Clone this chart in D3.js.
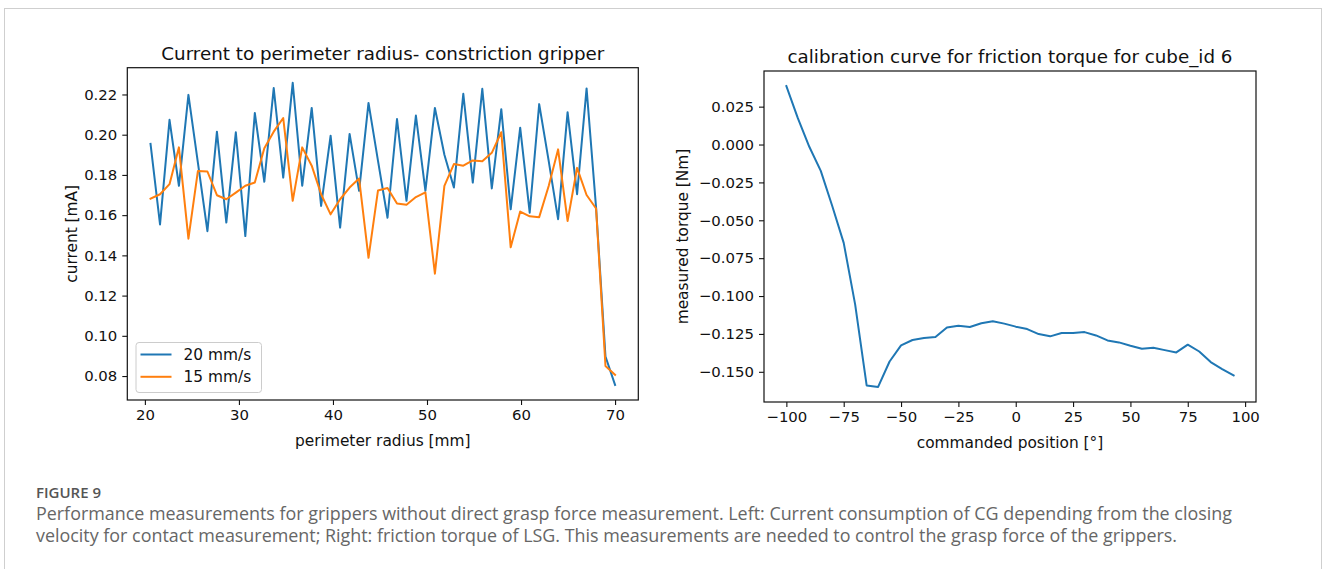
<!DOCTYPE html>
<html>
<head>
<meta charset="utf-8">
<script src="https://cdn.jsdelivr.net/npm/d3@7"></script>
<style>
  html, body { margin: 0; padding: 0; background: #fff; }
  svg { display: block; }
</style>
</head>
<body>
<svg id="chart" width="1328" height="569"></svg>
<script>
// ---------------- DATA ----------------
// Left panel: current vs perimeter radius
const radius = [20.6, 21.61, 22.62, 23.62, 24.63, 25.64, 26.65, 27.66, 28.66, 29.67,
  30.68, 31.69, 32.70, 33.70, 34.71, 35.72, 36.73, 37.74, 38.74, 39.75,
  40.76, 41.77, 42.78, 43.78, 44.79, 45.80, 46.81, 47.82, 48.82, 49.83,
  50.84, 51.85, 52.86, 53.86, 54.87, 55.88, 56.89, 57.90, 58.90, 59.91,
  60.92, 61.93, 62.94, 63.94, 64.95, 65.96, 66.97, 67.98, 68.98, 70.0];
const current20 = [0.1954, 0.1554, 0.2074, 0.1746, 0.2198, 0.1860, 0.1520, 0.2015, 0.1563, 0.2012,
  0.1496, 0.2108, 0.1766, 0.2232, 0.1787, 0.2258, 0.1746, 0.2133, 0.1646, 0.1995,
  0.1538, 0.2004, 0.1721, 0.2158, 0.1870, 0.1587, 0.2078, 0.1671, 0.2095, 0.1721,
  0.2133, 0.1900, 0.1737, 0.2203, 0.1762, 0.2228, 0.1733, 0.2127, 0.1629, 0.2035,
  0.1612, 0.2152, 0.1870, 0.1580, 0.2112, 0.1704, 0.2230, 0.1637, 0.0897, 0.0756];
const current15 = [0.1682, 0.1704, 0.1754, 0.1937, 0.1483, 0.1820, 0.1817, 0.1699, 0.1679, 0.1712,
  0.1746, 0.1762, 0.1933, 0.2015, 0.2083, 0.1671, 0.1937, 0.1846, 0.1704, 0.1604,
  0.1679, 0.1737, 0.1782, 0.1388, 0.1723, 0.1735, 0.1658, 0.1652, 0.1690, 0.1713,
  0.1309, 0.1746, 0.1854, 0.1846, 0.1872, 0.1868, 0.1910, 0.2012, 0.1440, 0.1618,
  0.1594, 0.1590, 0.1745, 0.1927, 0.1571, 0.1835, 0.1700, 0.1633, 0.0850, 0.0806];
const seriesNames = ["20 mm/s", "15 mm/s"];
const leftXTicks = [20, 30, 40, 50, 60, 70];
const leftYTicks = [0.08, 0.10, 0.12, 0.14, 0.16, 0.18, 0.20, 0.22];

// Right panel: friction torque calibration
const position = [-100, -95, -90, -85, -80, -75, -70, -65, -60, -55,
  -50, -45, -40, -35, -30, -25, -20, -15, -10, -5,
  0, 5, 10, 15, 20, 25, 30, 35, 40, 45,
  50, 55, 60, 65, 70, 75, 80, 85, 90, 95];
const torque = [0.0386, 0.0174, -0.0015, -0.0174, -0.0406, -0.0649, -0.1057, -0.1590, -0.1600, -0.1432,
  -0.1326, -0.1290, -0.1277, -0.1270, -0.1207, -0.1196, -0.1204, -0.1180, -0.1167, -0.1182,
  -0.1202, -0.1218, -0.1251, -0.1266, -0.1244, -0.1244, -0.1238, -0.1260, -0.1293, -0.1306,
  -0.1328, -0.1348, -0.1341, -0.1357, -0.1372, -0.1321, -0.1366, -0.1436, -0.1482, -0.1524];
const rightXTicks = [-100, -75, -50, -25, 0, 25, 50, 75, 100];
const rightYTicks = [0.025, 0.000, -0.025, -0.050, -0.075, -0.100, -0.125, -0.150];

const titles = ["Current to perimeter radius- constriction gripper",
                "calibration curve for friction torque for cube_id 6"];
const xLabels = ["perimeter radius [mm]", "commanded position [°]"];
const yLabels = ["current [mA]", "measured torque [Nm]"];
const captionHead = "FIGURE 9";
const captionLines = [
  "Performance measurements for grippers without direct grasp force measurement. Left: Current consumption of CG depending from the closing",
  "velocity for contact measurement; Right: friction torque of LSG. This measurements are needed to control the grasp force of the grippers."
];

// ---------------- LAYOUT ----------------
const C_BLUE = "#1f77b4", C_ORANGE = "#ff7f0e";
const FONT = "'DejaVu Sans', sans-serif";
const TICK_FS = 14.9, LABEL_FS = 15.4, TITLE_FS = 18.3;

const svg = d3.select("#chart");

// outer frame
svg.append("rect").attr("x", 4.5).attr("y", 8.5).attr("width", 1317).attr("height", 620)
  .attr("fill", "none").attr("stroke", "#cfcfcf").attr("stroke-width", 1);

function padDomain(vals) {
  const [a, b] = d3.extent(vals);
  const p = (b - a) * 0.05;
  return [a - p, b + p];
}

function panel(cfg) {
  const g = svg.append("g");
  const x = d3.scaleLinear().domain(padDomain(cfg.xs)).range([cfg.x0, cfg.x1]);
  const y = d3.scaleLinear().domain(padDomain(cfg.ys)).range([cfg.y1, cfg.y0]);

  cfg.series.forEach(s => {
    const line = d3.line().x((d, i) => x(cfg.xvals[i])).y(d => y(d));
    g.append("path").datum(s.values)
      .attr("fill", "none").attr("stroke", s.color).attr("stroke-width", 2)
      .attr("stroke-linejoin", "round").attr("stroke-linecap", "square")
      .attr("d", line);
  });

  const xAxis = d3.axisBottom(x).tickValues(cfg.xTicks).tickFormat(cfg.xFmt)
    .tickSizeOuter(0).tickSize(5).tickPadding(4);
  const yAxis = d3.axisLeft(y).tickValues(cfg.yTicks).tickFormat(cfg.yFmt)
    .tickSizeOuter(0).tickSize(5).tickPadding(5);
  const gx = g.append("g").attr("transform", `translate(0,${cfg.y1})`).call(xAxis);
  const gy = g.append("g").attr("transform", `translate(${cfg.x0},0)`).call(yAxis);
  [gx, gy].forEach(a => {
    a.select(".domain").remove();
    a.selectAll(".tick line").attr("stroke", "#111").attr("stroke-width", 1.1);
    a.selectAll(".tick text").attr("fill", "#111").style("font-size", TICK_FS + "px")
      .style("font-family", FONT);
  });

  g.append("rect").attr("x", cfg.x0).attr("y", cfg.y0)
    .attr("width", cfg.x1 - cfg.x0).attr("height", cfg.y1 - cfg.y0)
    .attr("fill", "none").attr("stroke", "#111").attr("stroke-width", 1.2);

  g.append("text").attr("x", (cfg.x0 + cfg.x1) / 2).attr("y", cfg.y0 - 8)
    .attr("text-anchor", "middle").attr("fill", "#111")
    .style("font-family", FONT).style("font-size", TITLE_FS + "px").text(cfg.title);
  g.append("text").attr("x", (cfg.x0 + cfg.x1) / 2).attr("y", cfg.y1 + 46)
    .attr("text-anchor", "middle").attr("fill", "#111")
    .style("font-family", FONT).style("font-size", LABEL_FS + "px").text(cfg.xLabel);
  g.append("text").attr("transform", `translate(${cfg.yLabelX},${(cfg.y0 + cfg.y1) / 2}) rotate(-90)`)
    .attr("text-anchor", "middle").attr("dy", "0.35em").attr("fill", "#111")
    .style("font-family", FONT).style("font-size", LABEL_FS + "px").text(cfg.yLabel);

  return { g, x, y };
}

const left = panel({
  x0: 127.3, x1: 638.3, y0: 67.7, y1: 400,
  xs: radius, ys: current20.concat(current15), xvals: radius,
  series: [{ values: current20, color: C_BLUE }, { values: current15, color: C_ORANGE }],
  xTicks: leftXTicks, yTicks: leftYTicks,
  xFmt: d3.format("d"), yFmt: d3.format(".2f"),
  title: titles[0], xLabel: xLabels[0], yLabel: yLabels[0], yLabelX: 71.5
});

const lg = left.g.append("g");
lg.append("rect").attr("x", 136).attr("y", 342.5).attr("width", 125.5).attr("height", 50)
  .attr("rx", 3).attr("fill", "#fff").attr("fill-opacity", 0.8)
  .attr("stroke", "#cccccc").attr("stroke-width", 1);
[C_BLUE, C_ORANGE].forEach((c, i) => {
  const yy = 354.5 + i * 22.3;
  lg.append("line").attr("x1", 140.5).attr("x2", 171.5).attr("y1", yy).attr("y2", yy)
    .attr("stroke", c).attr("stroke-width", 2);
  lg.append("text").attr("x", 183.5).attr("y", yy).attr("dy", "0.35em").attr("fill", "#111")
    .style("font-family", FONT).style("font-size", LABEL_FS + "px").text(seriesNames[i]);
});

panel({
  x0: 764, x1: 1256, y0: 71, y1: 402,
  xs: position, ys: torque, xvals: position,
  series: [{ values: torque, color: C_BLUE }],
  xTicks: rightXTicks, yTicks: rightYTicks,
  xFmt: d3.format("d"), yFmt: d3.format(".3f"),
  title: titles[1], xLabel: xLabels[1], yLabel: yLabels[1], yLabelX: 682.7
});

svg.append("text").attr("x", 36).attr("y", 498.3).attr("fill", "#555")
  .style("font-family", "'Open Sans', sans-serif").style("font-weight", 600)
  .style("font-size", "15px").text(captionHead);
captionLines.forEach((t, i) => {
  svg.append("text").attr("x", 36).attr("y", 519.5 + i * 22.5).attr("fill", "#666")
    .style("font-family", "'Open Sans', sans-serif").style("font-size", "17.9px").text(t);
});
</script>
</body>
</html>
